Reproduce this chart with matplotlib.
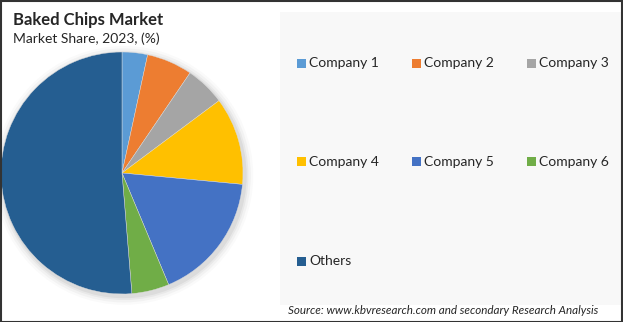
import matplotlib
matplotlib.use("Agg")
import matplotlib.pyplot as plt
from matplotlib.patches import Rectangle, Circle

companies = ["Company 1", "Company 2", "Company 3", "Company 4", "Company 5", "Company 6", "Others"]
shares = [3.4, 6.1, 5.3, 11.7, 17.2, 5.0, 51.3]
colors = ["#5B9BD5", "#ED7D31", "#A5A5A5", "#FFC000", "#4472C4", "#70AD47", "#255E91"]

W, H = 623, 322
FONT = "Lato"


def fx(px):
    return px / W


def fy(py):
    return 1 - py / H


fig = plt.figure(figsize=(W / 100, H / 100), dpi=100)
fig.patch.set_facecolor("white")

# light grey panel behind the legend
fig.add_artist(Rectangle((fx(280), fy(305)), fx(621) - fx(280), fy(12) - fy(305),
                         transform=fig.transFigure, facecolor="#F8F8F8", edgecolor="none", zorder=0))

# pie
ax = fig.add_axes([fx(1), fy(294), fx(243) - fx(1), fy(52) - fy(294)])
ax.axis("off")
for r, a in [(1.07, 0.02), (1.05, 0.03), (1.03, 0.04), (1.015, 0.05)]:
    ax.add_patch(Circle((0.015, -0.02), r, facecolor="black", edgecolor="none", alpha=a, zorder=0, clip_on=False))
ax.pie(shares, colors=colors, startangle=90, counterclock=False, radius=1,
       wedgeprops=dict(linewidth=0.3, edgecolor="#dddddd"))
ax.set_xlim(-1, 1)
ax.set_ylim(-1, 1)

# legend laid out in rows of three
col_x = [297, 412, 527]
row_y = [63, 162, 261]
for i, (name, c) in enumerate(zip(companies, colors)):
    x = col_x[i % 3]
    y = row_y[i // 3]
    fig.add_artist(Rectangle((fx(x), fy(y + 4.5)), fx(9), 9 / H, transform=fig.transFigure,
                             facecolor=c, edgecolor="none"))
    fig.text(fx(x + 12), fy(y), name, fontsize=10, family=FONT, color="#262626", va="center", ha="left")

fig.text(fx(13), fy(12), "Baked Chips Market", fontsize=12, fontweight="bold", family=FONT,
         color="#262626", va="top", ha="left")
fig.text(fx(13), fy(32), "Market Share, 2023, (%)", fontsize=10, family=FONT,
         color="#262626", va="top", ha="left")
fig.text(fx(598), fy(311), "Source: www.kbvresearch.com and secondary Research Analysis", fontsize=8.4,
         style="italic", family=FONT, color="#262626", va="center", ha="right")

# outer frame
fig.add_artist(Rectangle((0.5 / W, 0.5 / H), 1 - 1.5 / W, 1 - 1.5 / H, transform=fig.transFigure,
                         facecolor="none", edgecolor="#333333", linewidth=1.5))

fig.savefig("out.png", dpi=100)
